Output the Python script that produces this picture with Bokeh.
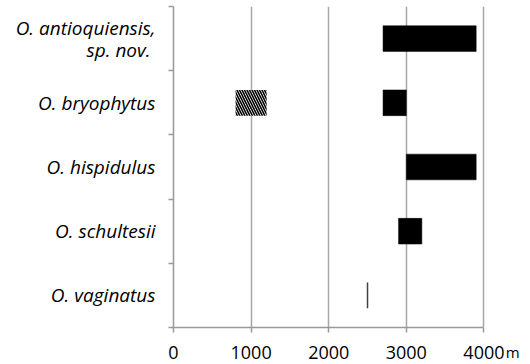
from bokeh.plotting import figure
from bokeh.models import Range1d, FixedTicker, LinearAxis, ColumnDataSource
from bokeh.embed import file_html
from bokeh.resources import INLINE

# Data
species = ["O. antioquiensis,\nsp. nov. ", "O. bryophytus", "O. hispidulus", "O. schultesii", "O. vaginatus"]
elev_min = [2700, 2700, 3000, 2900, 2500]
elev_max = [3900, 3000, 3900, 3200, 2500]
hatch_species = ["O. bryophytus"]
hatch_min = [800]
hatch_max = [1200]
x_ticks = [0, 1000, 2000, 3000, 4000]
x_unit = "m"

# layout constants
UNIT_LABEL_POS = 4370
X_END = 4600

n = len(species)
ypos = {s: n - i - 0.5 for i, s in enumerate(species)}

p = figure(width=530, height=364, output_backend="svg", toolbar_location=None,
           x_range=Range1d(0, X_END), y_range=Range1d(0, n),
           min_border_left=173, min_border_right=0, min_border_top=6, min_border_bottom=37)
p.outline_line_color = None
p.background_fill_color = "white"
p.border_fill_color = "white"

solid = [i for i in range(n) if elev_max[i] > elev_min[i]]
src_solid = ColumnDataSource(dict(y=[ypos[species[i]] for i in solid],
                                  left=[elev_min[i] for i in solid],
                                  right=[elev_max[i] for i in solid]))
thin = [i for i in range(n) if elev_max[i] == elev_min[i]]
src_thin = ColumnDataSource(dict(y=[ypos[species[i]] for i in thin],
                                 left=[elev_min[i] for i in thin],
                                 right=[elev_max[i] for i in thin]))
src_hatch = ColumnDataSource(dict(y=[ypos[s] for s in hatch_species], left=hatch_min, right=hatch_max))

# grid
p.ygrid.grid_line_color = None
p.xgrid.ticker = FixedTicker(ticks=x_ticks)
p.xgrid.grid_line_color = "#a6a6a6"
p.xgrid.grid_line_width = 1.5

p.hbar(y="y", left="left", right="right", height=0.4, source=src_solid,
       fill_color="black", line_color="black", line_width=0.5)
p.hbar(y="y", left="left", right="right", height=0.4, source=src_thin,
       fill_color="#404040", line_color="#404040", line_width=1.5)
p.hbar(y="y", left="left", right="right", height=0.4, source=src_hatch,
       fill_color="white", line_color=None, hatch_pattern="\\", hatch_color="black",
       hatch_scale=5, hatch_weight=1.6)

# x axis
xa = p.xaxis[0]
xa.ticker = FixedTicker(ticks=x_ticks)
xa.bounds = (x_ticks[0], x_ticks[-1])
xa.axis_line_color = "#999999"
xa.axis_line_width = 1.5
xa.major_tick_line_color = "#999999"
xa.major_tick_line_width = 1.5
xa.major_tick_out = 5
xa.major_tick_in = 0
xa.minor_tick_line_color = None
xa.major_label_text_font = "Open Sans"
xa.major_label_text_font_size = "18px"
xa.major_label_text_color = "black"
xa.major_label_standoff = 13
xa.major_label_text_line_height = 0.8

# unit label axis (stacked below, pulled back up)
xl = LinearAxis(ticker=FixedTicker(ticks=[UNIT_LABEL_POS]))
xl.major_label_overrides = {UNIT_LABEL_POS: x_unit}
xl.axis_line_color = None
xl.major_tick_line_color = None
xl.minor_tick_line_color = None
xl.major_tick_out = 0
xl.major_tick_in = 0
xl.major_label_text_font = "Open Sans"
xl.major_label_text_font_size = "15px"
xl.major_label_text_color = "black"
xl.major_label_text_baseline = "alphabetic"
xl.major_label_standoff = -20
p.add_layout(xl, "below")

# y axis
ya = p.yaxis[0]
ya.ticker = FixedTicker(ticks=[ypos[s] for s in species], minor_ticks=list(range(n + 1)))
ya.major_label_overrides = {ypos[s]: s for s in species}
ya.axis_line_color = "#999999"
ya.axis_line_width = 1.5
ya.major_tick_line_color = None
ya.major_tick_out = 0
ya.major_tick_in = 0
ya.minor_tick_line_color = "#999999"
ya.minor_tick_line_width = 1.5
ya.minor_tick_out = 5
ya.minor_tick_in = 0
ya.major_label_text_font = "Open Sans"
ya.major_label_text_font_style = "italic"
ya.major_label_text_font_size = "19px"
ya.major_label_text_line_height = 0.85
ya.major_label_text_color = "black"
ya.major_label_standoff = 13

open("out.html", "w").write(file_html(p, INLINE))
